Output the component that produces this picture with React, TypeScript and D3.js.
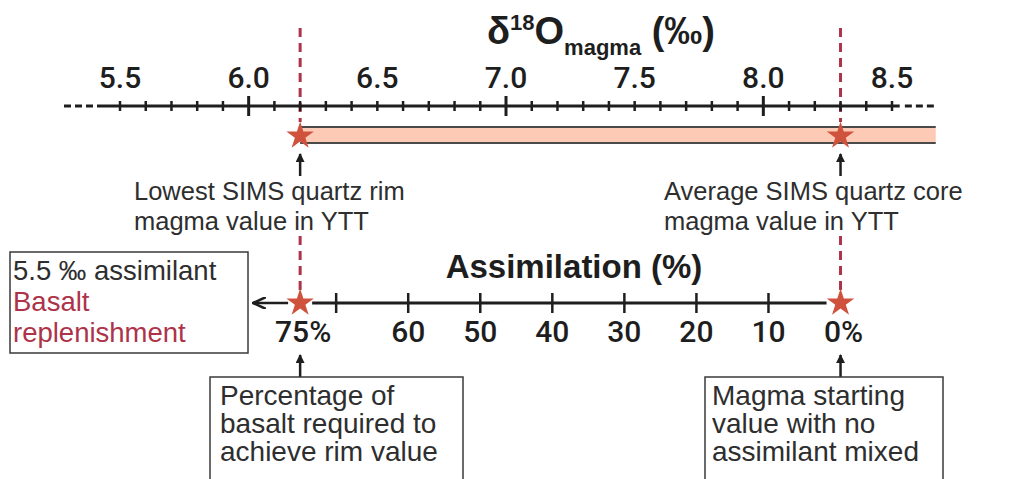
import React from 'react';
import * as d3 from 'd3';

// top axis: delta18O of magma (per mil)
const topTicks = [5.5, 6.0, 6.5, 7.0, 7.5, 8.0, 8.5];
const topMinor = d3.range(55, 86).map((v) => v / 10);
const rimValue = 6.2;
const coreValue = 8.3;
const barEnd = 8.67;

// bottom axis: assimilation (%)
const assimTicks = [70, 60, 50, 40, 30, 20, 10];
const assimLabels = ['75%', '60', '50', '40', '30', '20', '10', '0%'];
const assimLabelVals = [75, 60, 50, 40, 30, 20, 10, 0];
const assimStart = 75;
const assimEnd = 0;

const RED = '#ad3349';
const STAR = '#cf523d';
const INK = '#1e1e1e';
const TXT = '#2e2e2e';

const App = () => {
  const x = d3.scaleLinear().domain([5.5, 8.5]).range([120, 892]);
  const a = d3.scaleLinear().domain([assimStart, assimEnd]).range([x(rimValue), x(coreValue)]);
  const star = d3.symbol(d3.symbolStar, 235)();

  const axisY = 106;
  const barTop = 127;
  const barBot = 143;
  const starY = 136;
  const bY = 303;

  const tickFont = { fontFamily: 'Roboto, "Liberation Sans", sans-serif', fontWeight: 500, fontSize: 30, fill: INK };
  const bodyFont = { fontFamily: '"Liberation Sans", Arial, sans-serif', fill: TXT };

  return (
    <svg width={1019} height={479} style={{ position: 'absolute', left: 0, top: 0, background: '#fff' }}>
      <defs>
        <marker id="ah" viewBox="0 0 10 10" refX="9" refY="5" markerWidth="9" markerHeight="9" markerUnits="userSpaceOnUse" orient="auto">
          <path d="M0,0 L10,5 L0,10 Z" fill={INK} />
        </marker>
        <marker id="ahl" viewBox="0 0 12 10" refX="11" refY="5" markerWidth="14" markerHeight="12" markerUnits="userSpaceOnUse" orient="auto">
          <path d="M0,0 L11,5 L0,10" fill="none" stroke={INK} strokeWidth={2.2} />
        </marker>
      </defs>

      {/* title */}
      <text x={487} y={44} fontFamily='"Liberation Sans", Arial, sans-serif' fontWeight="bold" fontSize={38} fill={INK}>
        δ<tspan fontSize={22} dy={-14}>18</tspan>
        <tspan dy={14}>O</tspan>
        <tspan fontSize={22} dy={11}>magma</tspan>
        <tspan dy={-11}> (‰)</tspan>
      </text>

      {/* dashed value guides */}
      {[rimValue, coreValue].map((v) => (
        <g key={v}>
          <line x1={x(v)} x2={x(v)} y1={28} y2={122} stroke={RED} strokeWidth={3} strokeDasharray="9 6" />
          <line x1={x(v)} x2={x(v)} y1={236} y2={290} stroke={RED} strokeWidth={3} strokeDasharray="9 6" />
        </g>
      ))}

      {/* top axis */}
      <line x1={64} x2={98} y1={axisY} y2={axisY} stroke={INK} strokeWidth={3} strokeDasharray="7 4" />
      <line x1={98} x2={x(8.53)} y1={axisY} y2={axisY} stroke={INK} strokeWidth={3} />
      <line x1={x(8.55)} x2={934} y1={axisY} y2={axisY} stroke={INK} strokeWidth={3} strokeDasharray="7 4" />
      {topMinor.map((v) => {
        const major = Math.abs(v - Math.round(v)) < 1e-6;
        return (
          <line key={v} x1={x(v)} x2={x(v)} y1={axisY - (major ? 10 : 5)} y2={axisY + (major ? 10 : 5)}
            stroke={INK} strokeWidth={major ? 3 : 2.5} />
        );
      })}
      {topTicks.map((v) => (
        <text key={v} x={x(v)} y={88} textAnchor="middle" {...tickFont}>{v.toFixed(1)}</text>
      ))}

      {/* range bar */}
      <rect x={x(rimValue)} y={barTop} width={x(barEnd) - x(rimValue)} height={barBot - barTop} fill="#fdcab6" />
      <line x1={x(rimValue)} x2={x(barEnd)} y1={barTop} y2={barTop} stroke="#4a4a4a" strokeWidth={2} />
      <line x1={x(rimValue)} x2={x(barEnd)} y1={barBot} y2={barBot} stroke="#4a4a4a" strokeWidth={2} />
      {[rimValue, coreValue].map((v) => (
        <path key={v} d={star} transform={`translate(${x(v)},${starY})`} fill={STAR} />
      ))}

      {/* up arrows to markers */}
      {[rimValue, coreValue].map((v) => (
        <line key={v} x1={x(v)} x2={x(v)} y1={176} y2={154} stroke={INK} strokeWidth={2.5} markerEnd="url(#ah)" />
      ))}
      <text x={134} y={200} fontSize={25.5} {...bodyFont}>Lowest SIMS quartz rim</text>
      <text x={134} y={230} fontSize={25.5} {...bodyFont}>magma value in YTT</text>
      <text x={664} y={200} fontSize={25.5} {...bodyFont}>Average SIMS quartz core</text>
      <text x={664} y={230} fontSize={25.5} {...bodyFont}>magma value in YTT</text>

      {/* assimilation axis */}
      <text x={574} y={278} textAnchor="middle" fontFamily='"Liberation Sans", Arial, sans-serif' fontWeight="bold" fontSize={33} fill={INK}>
        Assimilation (%)
      </text>
      <line x1={a(assimStart) - 12} x2={253} y1={bY} y2={bY} stroke={INK} strokeWidth={2.5} markerEnd="url(#ahl)" />
      <line x1={a(assimStart) + 12} x2={a(assimEnd) - 14} y1={bY} y2={bY} stroke={INK} strokeWidth={3} />
      {assimTicks.map((v) => (
        <line key={v} x1={a(v)} x2={a(v)} y1={bY - 10} y2={bY + 10} stroke={INK} strokeWidth={2.5} />
      ))}
      {[assimStart, assimEnd].map((v) => (
        <path key={v} d={star} transform={`translate(${a(v)},${bY})`} fill={STAR} />
      ))}
      {assimLabels.map((l, i) => (
        <text key={l} x={a(assimLabelVals[i]) + (l.endsWith('%') ? 3 : 0)} y={342} textAnchor="middle" {...tickFont}>{l}</text>
      ))}

      {/* left box */}
      <rect x={10} y={252} width={238} height={101} fill="#fff" stroke="#3a3a3a" strokeWidth={1.5} />
      <text x={13} y={280} fontSize={27.5} {...bodyFont}>5.5 ‰ assimilant</text>
      <text x={13} y={311} fontSize={27.5} {...bodyFont} fill={RED}>Basalt</text>
      <text x={13} y={342} fontSize={27.5} {...bodyFont} fill={RED}>replenishment</text>

      {/* bottom boxes */}
      {[assimStart, assimEnd].map((v) => (
        <line key={v} x1={a(v)} x2={a(v)} y1={377} y2={355} stroke={INK} strokeWidth={2.5} markerEnd="url(#ah)" />
      ))}
      <rect x={210} y={377} width={253} height={120} fill="#fff" stroke="#3a3a3a" strokeWidth={1.5} />
      <text x={220} y={405} fontSize={28} {...bodyFont}>Percentage of</text>
      <text x={220} y={433} fontSize={28} {...bodyFont}>basalt required to</text>
      <text x={220} y={461} fontSize={28} {...bodyFont}>achieve rim value</text>
      <rect x={705} y={377} width={238} height={120} fill="#fff" stroke="#3a3a3a" strokeWidth={1.5} />
      <text x={712} y={405} fontSize={28} {...bodyFont}>Magma starting</text>
      <text x={712} y={433} fontSize={28} {...bodyFont}>value with no</text>
      <text x={712} y={461} fontSize={28} {...bodyFont}>assimilant mixed</text>
    </svg>
  );
};

export default App;
